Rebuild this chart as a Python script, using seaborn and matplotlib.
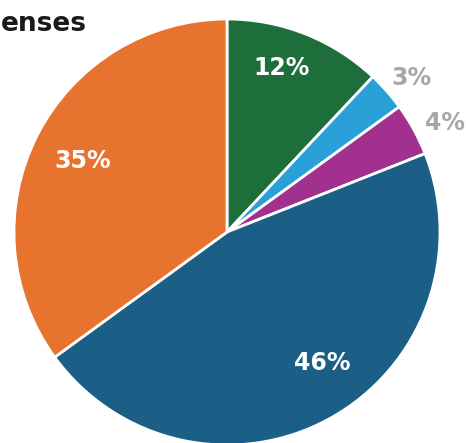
import numpy as np
import matplotlib
matplotlib.use("Agg")
import matplotlib.pyplot as plt
import seaborn as sns

categorias = ["Verde", "Azul claro", "Roxo", "Azul escuro", "Laranja"]
valores = [12, 3, 4, 46, 35]
rotulos = ["12%", "3%", "4%", "46%", "35%"]
titulo = "enses"

cores = sns.color_palette(["#1d6e3b", "#2aa0d8", "#a1308f", "#1b5f86", "#e8732f"])

sns.set_theme(style="white")
plt.rcParams['font.family'] = ['DejaVu Sans']

fig = plt.figure(figsize=(4.66, 4.43), dpi=100)
ax = fig.add_axes([0, 0, 1, 1])

fatias, _ = ax.pie(valores, colors=cores, startangle=90, counterclock=False,
                   wedgeprops=dict(edgecolor="white", linewidth=2))

# posicao radial e cor de cada rotulo
raios = [0.81, 1.13, 1.145, 0.76, 0.756]
desloc = [3, -1.6, -2.2, 7.4, 1]
cor_txt = ["white", "#a6a6a6", "#a6a6a6", "white", "white"]
for w, txt, r, d, c in zip(fatias, rotulos, raios, desloc, cor_txt):
    ang = np.deg2rad((w.theta1 + w.theta2) / 2 + d)
    ax.text(r * np.cos(ang), r * np.sin(ang), txt, ha="center", va="center",
            color=c, fontsize=17, fontweight="bold")

ax.set_xlim(-227 / 213, (466 - 227) / 213)
ax.set_ylim(-211 / 213, 232 / 213)
ax.set_aspect("equal")
ax.axis("off")

fig.text(0.002, 0.945, titulo, ha="left", va="center", fontsize=19,
         fontweight="bold", color="#1a1a1a")

fig.savefig("out.png", dpi=100)
